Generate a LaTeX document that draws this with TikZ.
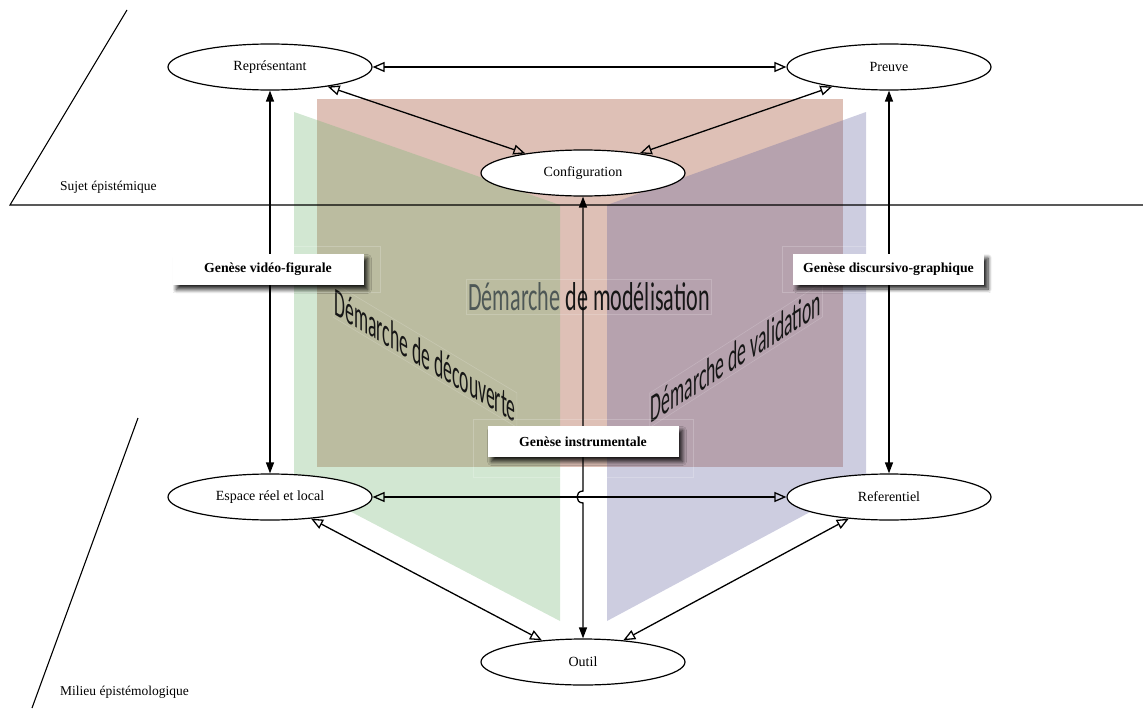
\documentclass[tikz,border=0pt]{standalone}
\usepackage{fontspec}
\setmainfont{Liberation Serif}
\newfontfamily\calib{Carlito}
\usetikzlibrary{arrows.meta,shapes.geometric,shadows.blur}

\definecolor{panelred}{RGB}{222,192,182}
\definecolor{panelgreen}{RGB}{118,182,118}
\definecolor{panelblue}{RGB}{99,99,160}
\definecolor{modgray}{RGB}{78,88,86}
\definecolor{inkdark}{RGB}{22,22,22}

\begin{document}
\begin{tikzpicture}[x=1pt,y=-1pt,
  pole/.style={ellipse, draw, line width=1.2pt, fill=white,
    minimum width=204pt, minimum height=46pt, inner sep=0pt,
    font=\fontsize{14}{16}\selectfont},
  genese/.style={rectangle, fill=white, minimum width=191pt, minimum height=31pt,
    inner sep=0pt, font=\bfseries\fontsize{13.8}{15}\selectfont,
    blur shadow={shadow xshift=4pt, shadow yshift=-4.5pt, shadow opacity=85,
      shadow blur radius=4pt, shadow blur steps=8}},
  link/.style={line width=1.3pt,
    {Triangle[open,length=12pt,width=10pt]}-{Triangle[open,length=12pt,width=10pt]}},
  genlink/.style={line width=1.3pt,
    {Triangle[length=11pt,width=8pt]}-{Triangle[length=11pt,width=8pt]}},
  demarche/.style={inner sep=2pt, font=\calib\fontsize{26}{26}\selectfont,
    text=inkdark, draw=white, draw opacity=0.18, line width=0.6pt},
  frame/.style={draw=white, draw opacity=0.2, line width=0.8pt},
  zone/.style={font=\fontsize{13.5}{15}\selectfont, anchor=west, inner sep=0pt}
]
\useasboundingbox (0,0) rectangle (1143,709);

% the three approaches as coloured panels
\fill[panelred] (317,99) rectangle (843,467);
\fill[panelgreen, fill opacity=0.33] (294,112) -- (560,205) -- (560,621) -- (294,482) -- cycle;
\fill[panelblue, fill opacity=0.32] (866,112) -- (607,205) -- (607,621) -- (866,482) -- cycle;

% planes separating subject and milieu
\draw[line width=1.1pt] (127,10) -- (10,205) -- (1143,205);
\draw[line width=1.1pt] (138,418) -- (32,708);
\node[zone] (sujet) at (60,187) {Sujet épistémique};
\node[zone] (milieu) at (60,692) {Milieu épistémologique};

\node[demarche, xscale=0.85, yscale=1.55, text=modgray] (modl) at (589,297)
  {Démarche \textcolor{inkdark}{de modélisation}};
\node[demarche, yslant=-0.6, xscale=0.68, yscale=1.55] (decv) at (425,355)
  {Démarche de découverte};
\node[demarche, yslant=0.64, xscale=0.68, yscale=1.55] (valid) at (736,355)
  {Démarche de validation};

% faint frames round the genesis labels
\draw[frame] (163,246) rectangle (380,292);
\draw[frame] (782,246) rectangle (1000,292);
\draw[frame] (473,419) rectangle (693,477);

% poles
\node[pole] (rep) at (270,67) {Représentant};
\node[pole] (preuve) at (889,67) {Preuve};
\node[pole] (conf) at (583,173) {Configuration};
\node[pole] (espace) at (270,497) {Espace réel et local};
\node[pole] (ref) at (889,497) {Referentiel};
\node[pole] (outil) at (583,662) {Outil};

% relations between poles
\draw[link] (rep) -- (preuve);
\draw[link] (rep) -- (conf);
\draw[link] (preuve) -- (conf);
\draw[link] (espace) -- (ref);
\draw[link] (espace) -- (outil);
\draw[link] (ref) -- (outil);

% geneses
\coordinate (hopA) at (583,491);
\coordinate (hopB) at (583,503);
\draw[genlink] (rep) -- (espace);
\draw[genlink] (preuve) -- (ref);
\draw[genlink] (conf.south) -- (hopA) .. controls +(-8,0) and +(-8,0) .. (hopB) -- (outil.north);

\node[genese] (gvf) at (268,269.5) {Genèse vidéo-figurale};
\node[genese] (gdg) at (888.5,269) {Genèse discursivo-graphique};
\node[genese] (gin) at (583,441.5) {Genèse instrumentale};
\end{tikzpicture}
\end{document}
